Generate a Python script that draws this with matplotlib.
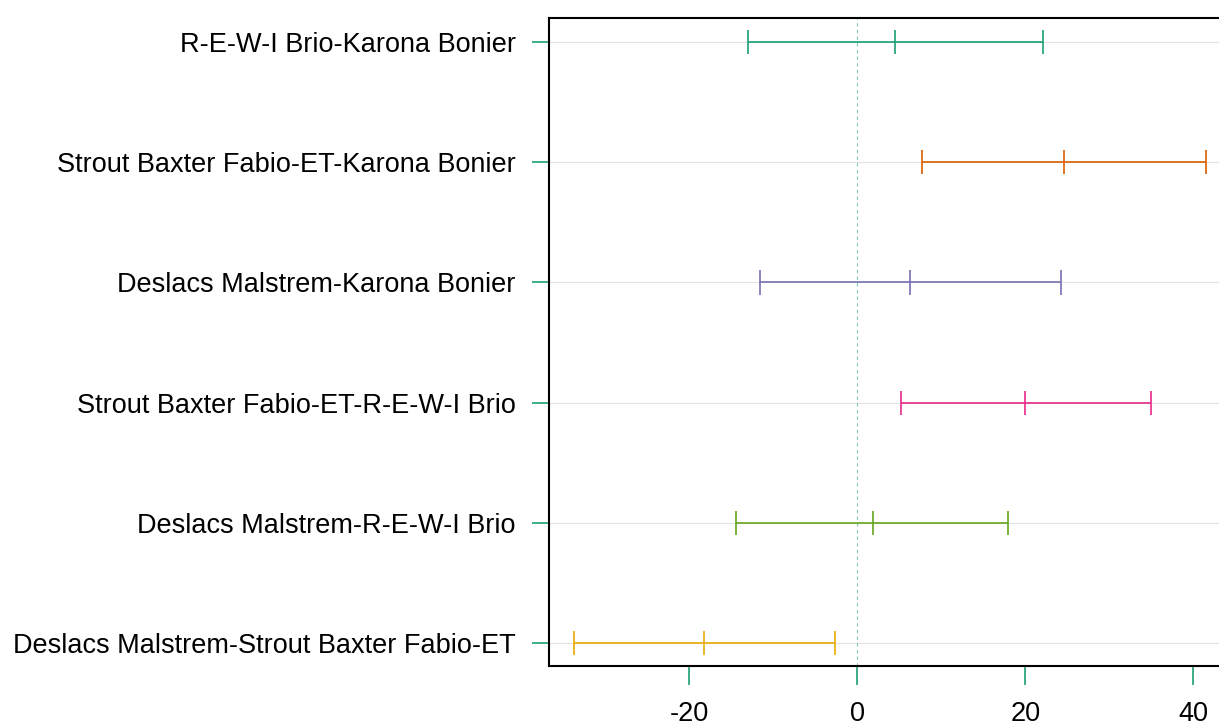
import matplotlib
matplotlib.use("Agg")
import matplotlib.pyplot as plt

comparisons = [
    "R-E-W-I Brio-Karona Bonier",
    "Strout Baxter Fabio-ET-Karona Bonier",
    "Deslacs Malstrem-Karona Bonier",
    "Strout Baxter Fabio-ET-R-E-W-I Brio",
    "Deslacs Malstrem-R-E-W-I Brio",
    "Deslacs Malstrem-Strout Baxter Fabio-ET",
]
diff = [4.5, 24.6, 6.3, 20.0, 1.9, -18.2]
lwr = [-13.0, 7.7, -11.6, 5.2, -14.4, -33.7]
upr = [22.1, 41.5, 24.3, 35.0, 18.0, -2.7]
colors = ["#1B9E77", "#D95F02", "#7570B3", "#E7298A", "#66A61E", "#E6AB02"]
xticks = [-20, 0, 20, 40]

plt.rcParams['font.family'] = ['Liberation Sans', 'DejaVu Sans']

fig = plt.figure(figsize=(12.19, 7.27), dpi=100)
ax = fig.add_axes([549/1219, 1 - 666/727, (1231 - 549)/1219, (666 - 18)/727])

n = len(comparisons)
ys = list(range(n, 0, -1))
for y in ys:
    ax.axhline(y, color="#e3e3e3", lw=0.8, zorder=0)
ax.axvline(0, color="#1B9E77", lw=0.8, ls=(0, (3, 3)), alpha=0.55, zorder=1)

cap = 0.1
for y, d, lo, hi, c in zip(ys, diff, lwr, upr, colors):
    ax.hlines(y, lo, hi, color=c, lw=1.2, zorder=2)
    ax.vlines([lo, d, hi], y - cap, y + cap, color=c, lw=1.2, zorder=2)

ax.set_xlim(-36.7, 44.5)
ax.set_ylim(0.81, 6.2)
ax.set_yticks(ys)
ax.set_yticklabels(comparisons, fontsize=19.5)
ax.set_xticks(xticks)
ax.set_xticklabels([str(t) for t in xticks], fontsize=19.5)
ax.tick_params(axis='both', colors="#1B9E77", labelcolor="black", width=1.2)
ax.tick_params(axis='y', length=12, pad=12)
ax.tick_params(axis='x', length=14, pad=11)
for s in ["left", "top", "bottom"]:
    ax.spines[s].set_linewidth(1.5)
ax.spines["right"].set_visible(False)

fig.savefig("out.png", dpi=100)
